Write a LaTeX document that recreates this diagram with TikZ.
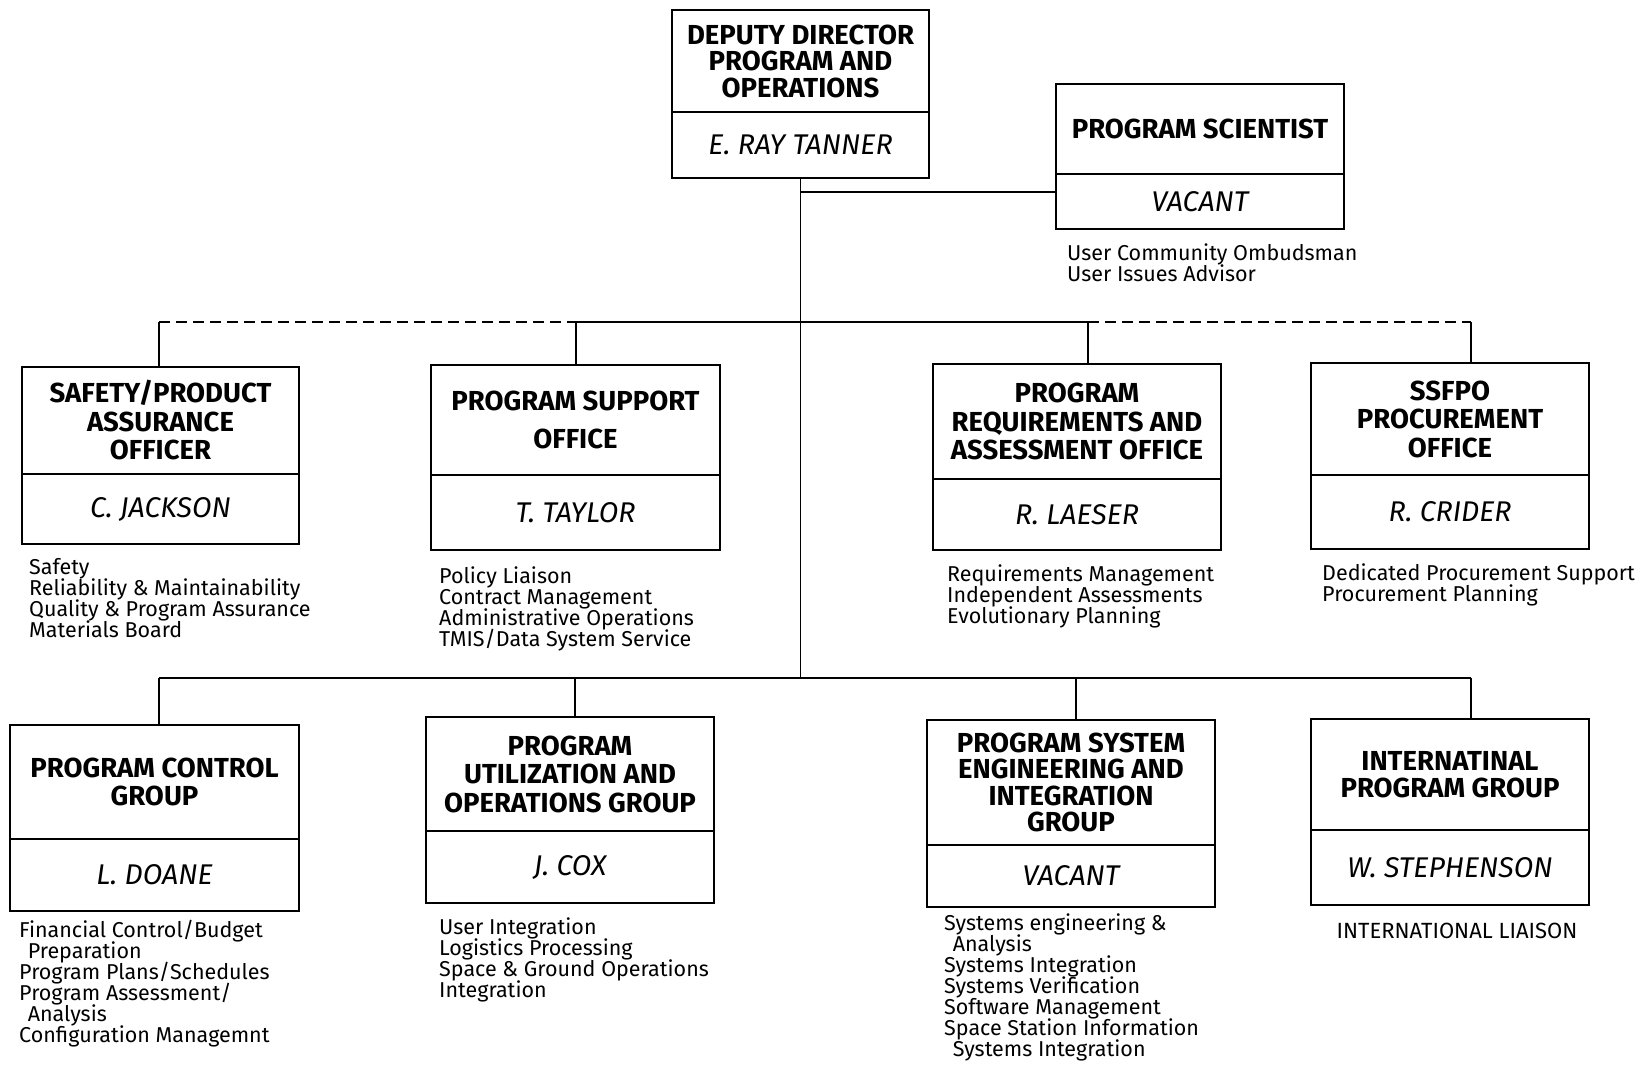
\documentclass[tikz,border=0pt]{standalone}
\usepackage{fontspec}
\setmainfont{Fira Sans}
\usetikzlibrary{positioning}
\newcommand\dutyfont{\fontsize{21.5}{21}\selectfont\lineskiplimit=-20pt\relax}
\tikzset{head/.style={draw, line width=1.8pt, outer sep=0pt, inner sep=0pt, align=center, font=\bfseries\fontsize{27.5}{28.5}\selectfont}}
\tikzset{tight/.style={font=\bfseries\fontsize{27.5}{26.5}\selectfont}}
\tikzset{who/.style={draw, line width=1.8pt, outer sep=0pt, inner sep=0pt, font=\itshape\fontsize{28.5}{29}\selectfont}}
\tikzset{duties/.style={anchor=north west, inner sep=0pt, align=left, font=\dutyfont}}
\tikzset{connect/.style={draw, line width=1.6pt}}
\tikzset{loose/.style={dash pattern=on 11pt off 6pt}}

\begin{document}
\begin{tikzpicture}[x=1pt,y=-1pt]
\useasboundingbox (0,0) rectangle (1640,1065);

%top
\node[head,tight,minimum width=257pt,minimum height=102pt] (deputy) at (800.5,61) {DEPUTY DIRECTOR\\PROGRAM AND\\OPERATIONS};
\node[who,minimum width=257pt,minimum height=66pt,below=0pt of deputy] (deputyname) {E. RAY TANNER};
\node[head,minimum width=288pt,minimum height=90pt] (scientist) at (1200,129) {PROGRAM SCIENTIST};
\node[who,minimum width=288pt,minimum height=55pt,below=0pt of scientist] (scientistname) {VACANT};
\node[duties] (scientistlist) at (1067,244) {User Community Ombudsman\\User Issues Advisor};

%upper row
\node[head,minimum width=277pt,minimum height=107pt] (safety) at (160.5,420.5) {SAFETY/PRODUCT\\ASSURANCE\\OFFICER};
\node[who,minimum width=277pt,minimum height=70pt,below=0pt of safety] (safetyname) {C. JACKSON};
\node[duties] (safetylist) at (29,558) {Safety\\Reliability \& Maintainability\\Quality \& Program Assurance\\Materials Board};

\node[head,minimum width=289pt,minimum height=110pt] (support) at (575.5,420) {PROGRAM SUPPORT\\[10pt]OFFICE};
\node[who,minimum width=289pt,minimum height=75pt,below=0pt of support] (supportname) {T. TAYLOR};
\node[duties] (supportlist) at (439,567) {Policy Liaison\\Contract Management\\Administrative Operations\\TMIS/Data System Service};

\node[head,minimum width=288pt,minimum height=115pt] (require) at (1077,421.5) {PROGRAM\\REQUIREMENTS AND\\ASSESSMENT OFFICE};
\node[who,minimum width=288pt,minimum height=71pt,below=0pt of require] (requirename) {R. LAESER};
\node[duties] (requirelist) at (947,565) {Requirements Management\\Independent Assessments\\Evolutionary Planning};

\node[head,minimum width=278pt,minimum height=112pt] (procure) at (1450,419) {SSFPO\\PROCUREMENT\\OFFICE};
\node[who,minimum width=278pt,minimum height=74pt,below=0pt of procure] (procurename) {R. CRIDER};
\node[duties] (procurelist) at (1322,564) {Dedicated Procurement Support\\Procurement Planning};

%lower row
\node[head,minimum width=289pt,minimum height=114pt] (control) at (154.5,782) {PROGRAM CONTROL\\GROUP};
\node[who,minimum width=289pt,minimum height=72pt,below=0pt of control] (controlname) {L. DOANE};
\node[duties] (controllist) at (19,920) {Financial Control/Budget\\\hspace*{0.4em}Preparation\\Program Plans/Schedules\\Program Assessment/\\\hspace*{0.4em}Analysis\\Configuration Managemnt};

\node[head,minimum width=288pt,minimum height=114pt] (utilize) at (570,774) {PROGRAM\\UTILIZATION AND\\OPERATIONS GROUP};
\node[who,minimum width=288pt,minimum height=72pt,below=0pt of utilize] (utilizename) {J. COX};
\node[duties] (utilizelist) at (439,918) {User Integration\\Logistics Processing\\Space \& Ground Operations\\Integration};

\node[head,tight,minimum width=288pt,minimum height=125pt] (syseng) at (1071,782.5) {PROGRAM SYSTEM\\ENGINEERING AND\\INTEGRATION\\GROUP};
\node[who,minimum width=288pt,minimum height=62pt,below=0pt of syseng] (sysengname) {VACANT};
\node[duties] (sysenglist) at (944,914) {Systems engineering \&\\\hspace*{0.4em}Analysis\\Systems Integration\\Systems Verification\\Software Management\\Space Station Information\\\hspace*{0.4em}Systems Integration};

\node[head,tight,minimum width=278pt,minimum height=111pt] (intl) at (1450,774.5) {INTERNATINAL\\PROGRAM GROUP};
\node[who,minimum width=278pt,minimum height=75pt,below=0pt of intl] (intlname) {W. STEPHENSON};
\node[inner sep=0pt,font=\fontsize{22}{22}\selectfont] (intllist) at (1457,931) {INTERNATIONAL LIAISON};

%bus points
\coordinate (up1) at (159,322);
\coordinate (up2) at (576,322);
\coordinate (up3) at (1088,322);
\coordinate (up4) at (1471,322);
\coordinate (low1) at (159,678);
\coordinate (low2) at (575,678);
\coordinate (low3) at (1076,678);
\coordinate (low4) at (1471,678);
\coordinate (side) at (800.5,192);

%trunk
\path[connect] (deputyname.south) -- (deputyname.south |- low1);
\path[connect] (side) -- (side -| scientistname.west);

%upper bus
\path[connect,loose] (up1) -- (up2);
\path[connect] (up2) -- (up3);
\path[connect,loose] (up3) -- (up4);
\path[connect] (up1) -- (up1 |- safety.north);
\path[connect] (up2) -- (up2 |- support.north);
\path[connect] (up3) -- (up3 |- require.north);
\path[connect] (up4) -- (up4 |- procure.north);

%lower bus
\path[connect] (low1) -- (low4);
\path[connect] (low1) -- (low1 |- control.north);
\path[connect] (low2) -- (low2 |- utilize.north);
\path[connect] (low3) -- (low3 |- syseng.north);
\path[connect] (low4) -- (low4 |- intl.north);

\end{tikzpicture}
\end{document}
